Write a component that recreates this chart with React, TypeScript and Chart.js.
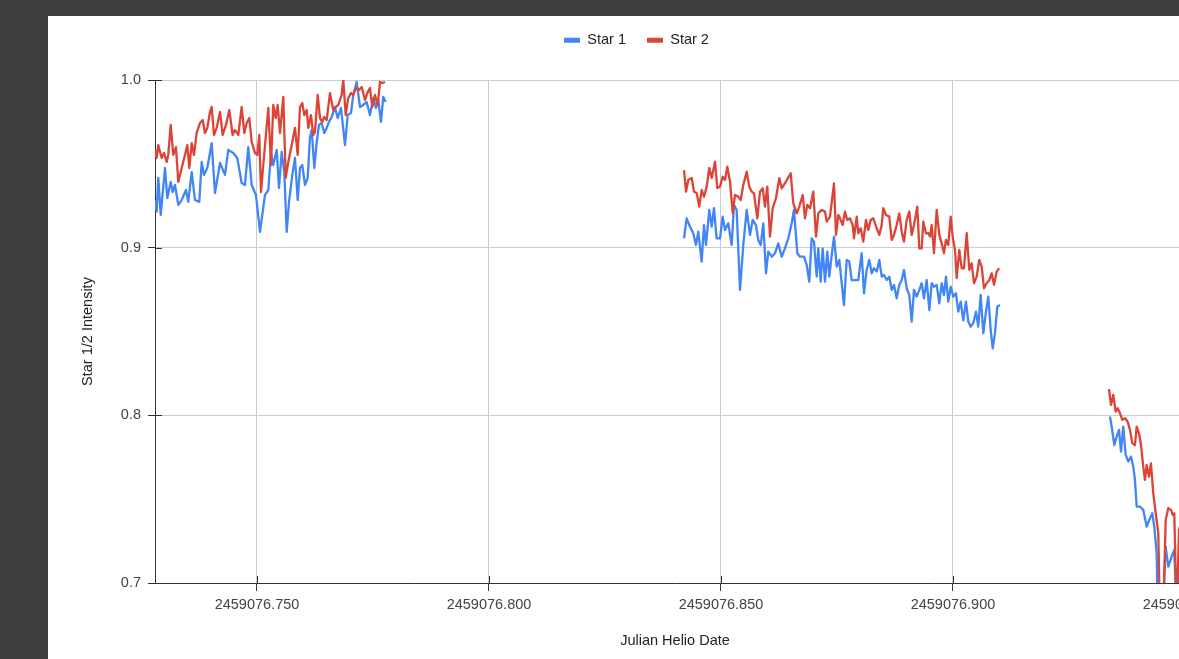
import React, { useEffect, useRef } from "react";
import { Chart, registerables } from "chart.js";

Chart.register(...registerables);

const BASE_JD = 2459076;
const X_MIN = 0.72802;
const X_MAX = 0.95216;
const X_TICKS = [0.75, 0.8, 0.85, 0.9, 0.95];
const Y_TICKS = [0.7, 0.8, 0.9, 1.0];
const SERIES_NAMES = ["Star 1", "Star 2"];

// Star 1 (fractional day after BASE_JD, null value = gap between observing runs)
const star1Times = [
  0.72802, 0.72838, 0.72873, 0.72925, 0.73017, 0.73067, 0.7314, 0.73183, 0.73233, 0.73304,
  0.73377, 0.7347, 0.73519, 0.73593, 0.73664, 0.73756, 0.73808, 0.73858, 0.73929, 0.74024,
  0.74095, 0.74203, 0.7431, 0.74381, 0.74489, 0.74575, 0.7467, 0.74741, 0.74812, 0.74886,
  0.74978, 0.75065, 0.75172, 0.75244, 0.75302, 0.75351, 0.75425, 0.75474, 0.75532, 0.75588,
  0.7564, 0.7569, 0.75761, 0.75819, 0.75877, 0.75927, 0.75976, 0.76034, 0.76093, 0.76142,
  0.76179, 0.76235, 0.76287, 0.76336, 0.76394, 0.7645, 0.76502, 0.76552, 0.7661, 0.76681,
  0.76739, 0.7681, 0.76897, 0.76955, 0.77026, 0.77075, 0.77149, 0.7722, 0.77291, 0.77364,
  0.77435, 0.77507, 0.77565, 0.77614, 0.77672, 0.77722, 0.77774,
  0.81,
  0.84203, 0.84261, 0.84332, 0.84403, 0.84461, 0.84511, 0.84584, 0.84634, 0.84677, 0.84748,
  0.848, 0.84849, 0.84907, 0.84979, 0.85037, 0.85086, 0.85157, 0.85231, 0.8528, 0.85338,
  0.8541, 0.85481, 0.85554, 0.85625, 0.85683, 0.85754, 0.85804, 0.85856, 0.85912, 0.8597,
  0.8602, 0.86093, 0.86164, 0.86235, 0.86308, 0.86379, 0.86451, 0.86524, 0.86573, 0.86645,
  0.86703, 0.86789, 0.86847, 0.86903, 0.86955, 0.87004, 0.87063, 0.87097, 0.87149, 0.87192,
  0.87242, 0.87291, 0.87334, 0.87386, 0.87436, 0.87494, 0.8755, 0.87651, 0.87709, 0.87765,
  0.87817, 0.87888, 0.87959, 0.88032, 0.88082, 0.8814, 0.88196, 0.88248, 0.88297, 0.88356,
  0.88412, 0.88464, 0.88513, 0.88571, 0.88627, 0.88679, 0.88729, 0.88787, 0.88843, 0.88895,
  0.88944, 0.89002, 0.89058, 0.8911, 0.8916, 0.89218, 0.89274, 0.89326, 0.89375, 0.89433,
  0.8949, 0.89541, 0.89591, 0.89649, 0.89705, 0.89757, 0.89806, 0.89849, 0.89899, 0.89951,
  0.90007, 0.90065, 0.90114, 0.90166, 0.90222, 0.9028, 0.9033, 0.90381, 0.90438, 0.90496,
  0.90545, 0.90597, 0.90653, 0.90711, 0.90761, 0.90813, 0.90856, 0.90905, 0.90955, 0.91013,
  0.923,
  0.93384, 0.9342, 0.93476, 0.93528, 0.93578, 0.93621, 0.9367, 0.93722, 0.93778, 0.93836,
  0.93886, 0.93922, 0.93959, 0.9403, 0.94101, 0.94175, 0.94246, 0.94295, 0.94338, 0.9439,
  0.94425, 0.94498, 0.94584, 0.9464, 0.94713, 0.94769, 0.94821, 0.94871, 0.94935,
];
const star1Values = [
  0.9284, 0.9215, 0.9416, 0.9195, 0.9475, 0.9296, 0.9392, 0.9332, 0.9374, 0.9255,
  0.9284, 0.9344, 0.9273, 0.9451, 0.9284, 0.9273, 0.9511, 0.9434, 0.9475, 0.9624,
  0.9326, 0.9505, 0.9434, 0.9583, 0.9565, 0.9535, 0.9386, 0.9374, 0.96, 0.9374,
  0.9314, 0.9094, 0.9314, 0.9344, 0.9565, 0.9493, 0.9583, 0.9356, 0.9571, 0.9451,
  0.9094, 0.9273, 0.9434, 0.9535, 0.9284, 0.9475, 0.9493, 0.9374, 0.9416, 0.966,
  0.9702, 0.9475, 0.963, 0.9732, 0.9744, 0.9684, 0.9714, 0.975, 0.9779, 0.9839,
  0.9773, 0.9833, 0.9612, 0.9791, 0.9803, 0.9911, 0.9988, 0.9839, 0.9851, 0.9869,
  0.9791, 0.9893, 0.9833, 0.9881, 0.975, 0.9899, 0.9869,
  null,
  0.9056, 0.9175, 0.9125, 0.9086, 0.9016, 0.9095, 0.8917, 0.9135, 0.9016, 0.9225,
  0.9125, 0.9235, 0.9056, 0.9056, 0.9185, 0.9106, 0.9145, 0.9016, 0.9255, 0.9225,
  0.8748, 0.9016, 0.9225, 0.9076, 0.9165, 0.9135, 0.9046, 0.9016, 0.9145, 0.8847,
  0.8976, 0.8946, 0.8967, 0.9026, 0.8946, 0.8996, 0.9056, 0.9145, 0.9225, 0.8967,
  0.8946, 0.8946, 0.8897, 0.8797, 0.9056, 0.9036, 0.8827, 0.8996, 0.8797, 0.8996,
  0.8797, 0.8976, 0.8827, 0.8956, 0.9066, 0.8887, 0.8927, 0.8658, 0.8927, 0.8917,
  0.8807, 0.8807, 0.8807, 0.8967, 0.8728, 0.8867, 0.8927, 0.8847, 0.8877, 0.8857,
  0.8927, 0.8827, 0.8837, 0.8807, 0.8827, 0.8748, 0.8778, 0.8698, 0.8778, 0.8807,
  0.8867, 0.8758, 0.8718, 0.8559, 0.8748, 0.8708, 0.8748, 0.8788, 0.8698, 0.8807,
  0.8628, 0.8788, 0.8767, 0.8778, 0.8668, 0.8788, 0.8718, 0.8827, 0.8678, 0.8767,
  0.8708, 0.8728, 0.8618, 0.8678, 0.8566, 0.8678, 0.8559, 0.8529, 0.8549, 0.8618,
  0.8529, 0.8718, 0.849, 0.8618, 0.8708, 0.8509, 0.84, 0.849, 0.8648, 0.8658,
  null,
  0.7992, 0.7933, 0.7823, 0.7873, 0.7913, 0.7784, 0.7933, 0.7764, 0.7724, 0.7754,
  0.7694, 0.7615, 0.7456, 0.7456, 0.7436, 0.7337, 0.7387, 0.7416, 0.7337, 0.7178,
  0.66, 0.67, 0.7217, 0.7098, 0.7157, 0.7197, 0.68, 0.7138, 0.7197,
];

// Star 2
const star2Times = [
  0.72802, 0.72838, 0.72873, 0.72946, 0.72996, 0.73054, 0.73088, 0.7314, 0.73196, 0.73254,
  0.73304, 0.73377, 0.73448, 0.73498, 0.73541, 0.73593, 0.73642, 0.737, 0.73772, 0.7383,
  0.73879, 0.73929, 0.73987, 0.74024, 0.74073, 0.74131, 0.74203, 0.74261, 0.74332, 0.74403,
  0.74476, 0.74526, 0.74597, 0.7467, 0.74726, 0.74778, 0.74834, 0.74886, 0.74957, 0.75006,
  0.7505, 0.75086, 0.75136, 0.75244, 0.75302, 0.75351, 0.75403, 0.75446, 0.75496, 0.75567,
  0.75619, 0.75675, 0.75748, 0.75819, 0.75877, 0.75927, 0.75976, 0.76019, 0.76071, 0.76106,
  0.76164, 0.76213, 0.7625, 0.76308, 0.76358, 0.76407, 0.7645, 0.76502, 0.76573, 0.76644,
  0.76696, 0.76752, 0.76825, 0.7686, 0.76912, 0.76968, 0.77026, 0.77075, 0.77127, 0.77198,
  0.77256, 0.77328, 0.77386, 0.77435, 0.77485, 0.77543, 0.77601, 0.77651, 0.777, 0.77759,
  0.81,
  0.84203, 0.84246, 0.84295, 0.84369, 0.84418, 0.84476, 0.84532, 0.84584, 0.84634, 0.84692,
  0.84748, 0.848, 0.84871, 0.8492, 0.84979, 0.85037, 0.85086, 0.85136, 0.85194, 0.85252,
  0.85302, 0.85373, 0.85425, 0.85481, 0.85554, 0.8561, 0.85662, 0.85711, 0.85783, 0.85841,
  0.85899, 0.85948, 0.85998, 0.86056, 0.86114, 0.86185, 0.86257, 0.86308, 0.86401, 0.86502,
  0.86558, 0.86632, 0.86688, 0.86761, 0.86811, 0.8686, 0.86918, 0.86989, 0.87048, 0.87097,
  0.87171, 0.87242, 0.87278, 0.87349, 0.87436, 0.87479, 0.87528, 0.87565, 0.87623, 0.87672,
  0.87722, 0.8778, 0.87838, 0.87866, 0.87925, 0.87959, 0.88011, 0.88067, 0.88125, 0.88175,
  0.88226, 0.88282, 0.88356, 0.88412, 0.88464, 0.88498, 0.88556, 0.88627, 0.88679, 0.88729,
  0.88787, 0.88843, 0.88895, 0.88944, 0.89002, 0.89058, 0.8911, 0.8916, 0.89231, 0.89274,
  0.89326, 0.8936, 0.89418, 0.89468, 0.89505, 0.89541, 0.89591, 0.89649, 0.89705, 0.89757,
  0.89806, 0.89849, 0.89899, 0.89951, 0.89994, 0.90043, 0.9008, 0.90136, 0.90188, 0.90237,
  0.90296, 0.90352, 0.90403, 0.90453, 0.90511, 0.90567, 0.90619, 0.90668, 0.90727, 0.90783,
  0.90834, 0.90884, 0.90942, 0.90998,
  0.923,
  0.93362, 0.93405, 0.93455, 0.93506, 0.9355, 0.93599, 0.93649, 0.93707, 0.93765, 0.93815,
  0.93864, 0.93922, 0.93959, 0.94009, 0.94052, 0.94101, 0.94138, 0.94175, 0.94224, 0.94267,
  0.94317, 0.94369, 0.94425, 0.94468, 0.94532, 0.94584, 0.9464, 0.94698, 0.94735, 0.94769,
  0.94821, 0.94871, 0.94935,
];
const star2Values = [
  0.9583, 0.9535, 0.9612, 0.9535, 0.9565, 0.9511, 0.9553, 0.9732, 0.9553, 0.96,
  0.9392, 0.9475, 0.9553, 0.9612, 0.9475, 0.9624, 0.9553, 0.9684, 0.9744, 0.9761,
  0.9684, 0.9714, 0.9809, 0.9839, 0.9672, 0.9714, 0.9809, 0.9672, 0.9732, 0.9821,
  0.9672, 0.9702, 0.9672, 0.9839, 0.9684, 0.9744, 0.9773, 0.963, 0.9565, 0.9553,
  0.9672, 0.9332, 0.9493, 0.9833, 0.9493, 0.9851, 0.9773, 0.9851, 0.9684, 0.9899,
  0.9416, 0.9511, 0.9612, 0.9714, 0.9553, 0.9839, 0.9863, 0.9791, 0.9821, 0.9714,
  0.9791, 0.9672, 0.969, 0.9911, 0.9773, 0.975, 0.9779, 0.9761, 0.9922, 0.9821,
  0.9839, 0.9851, 0.9911, 1.0, 0.9791, 0.9893, 0.9922, 0.9911, 0.9952, 0.994,
  0.9958, 0.9881, 0.9928, 0.9952, 0.9839, 0.9911, 0.9851, 0.9988, 0.9982, 0.9988,
  null,
  0.9463, 0.9334, 0.9404, 0.9416, 0.9334, 0.9326, 0.9245, 0.9344, 0.9304, 0.9364,
  0.9475, 0.9416, 0.9513, 0.9356, 0.9364, 0.9423, 0.9404, 0.9483, 0.9394, 0.9207,
  0.9314, 0.9304, 0.9284, 0.9374, 0.9453, 0.9364, 0.9334, 0.9324, 0.9175, 0.9334,
  0.9354, 0.9245, 0.9364, 0.9066, 0.9235, 0.9295, 0.9414, 0.9354, 0.9394, 0.9444,
  0.9265, 0.9205, 0.9245, 0.9314, 0.9175, 0.9255, 0.9235, 0.9334, 0.9066, 0.9205,
  0.9225, 0.9215, 0.9155, 0.9185, 0.9384, 0.9076, 0.9195, 0.9175, 0.9135, 0.9215,
  0.9165, 0.9175, 0.9135, 0.9056, 0.9185, 0.9086, 0.9116, 0.9036, 0.9165, 0.9106,
  0.9165, 0.9175, 0.9116, 0.9076, 0.9135, 0.9235, 0.9195, 0.9185, 0.9046, 0.9076,
  0.9135, 0.9205, 0.9095, 0.9036, 0.9165, 0.9215, 0.9076, 0.9135, 0.9245, 0.8996,
  0.8996, 0.9155, 0.9086, 0.9086, 0.9066, 0.9135, 0.8967, 0.9225, 0.9076, 0.9026,
  0.8967, 0.9046, 0.9016, 0.9185, 0.9066, 0.8986, 0.8818, 0.8986, 0.8877, 0.8877,
  0.9086, 0.8867, 0.8907, 0.8788, 0.8827, 0.8927, 0.8887, 0.8758, 0.8788, 0.8807,
  0.8847, 0.8778, 0.8857, 0.8877,
  null,
  0.8156, 0.8062, 0.8122, 0.8022, 0.8042, 0.8013, 0.7973, 0.7983, 0.7962, 0.7913,
  0.7834, 0.7823, 0.7933, 0.7893, 0.7823, 0.7694, 0.7615, 0.7704, 0.7634, 0.7714,
  0.7535, 0.7416, 0.7297, 0.67, 0.68, 0.7376, 0.7446, 0.7436, 0.7406, 0.7416,
  0.68, 0.7317, 0.7376,
];

const FONT = "'Liberation Sans', Arial, sans-serif";

const toPoints = (times: number[], values: (number | null)[]) =>
  times.map((t, i) => ({ x: BASE_JD + t, y: values[i] }));

const legendHeightPlugin = {
  id: "legendHeight",
  beforeLayout(chart: any) {
    const legend = chart.legend;
    if (legend && !legend._patchedFit) {
      const origFit = legend.fit;
      legend.fit = function () {
        origFit.call(this);
        this.height = 68;
      };
      legend._patchedFit = true;
    }
  },
};

const crossTicksPlugin = {
  id: "crossTicks",
  afterDraw(chart: any) {
    const { ctx, chartArea, scales } = chart;
    const x = scales.x;
    const y = scales.y;
    ctx.save();
    ctx.strokeStyle = "#333";
    ctx.lineWidth = 1;
    ctx.beginPath();
    x.ticks.forEach((t: any) => {
      const px = Math.round(x.getPixelForValue(t.value)) + 0.5;
      ctx.moveTo(px, chartArea.bottom);
      ctx.lineTo(px, chartArea.bottom - 7);
    });
    y.ticks.forEach((t: any) => {
      const py = Math.round(y.getPixelForValue(t.value)) + 0.5;
      ctx.moveTo(chartArea.left, py);
      ctx.lineTo(chartArea.left + 7, py);
    });
    ctx.stroke();
    ctx.restore();
  },
};

export default function App() {
  const canvasRef = useRef<HTMLCanvasElement | null>(null);

  useEffect(() => {
    if (!canvasRef.current) return;
    const chart = new Chart(canvasRef.current, {
      type: "line",
      data: {
        datasets: [
          {
            label: SERIES_NAMES[0],
            data: toPoints(star1Times, star1Values),
            borderColor: "#4285F4",
            backgroundColor: "#4285F4",
            borderWidth: 2.3,
            borderJoinStyle: "round",
            pointRadius: 0,
            pointHoverRadius: 0,
            tension: 0,
            spanGaps: false,
            order: 1,
          },
          {
            label: SERIES_NAMES[1],
            data: toPoints(star2Times, star2Values),
            borderColor: "#DB4437",
            backgroundColor: "#DB4437",
            borderWidth: 2.3,
            borderJoinStyle: "round",
            pointRadius: 0,
            pointHoverRadius: 0,
            tension: 0,
            spanGaps: false,
            order: 0,
          },
        ],
      },
      options: {
        animation: false,
        responsive: false,
        maintainAspectRatio: false,
        parsing: true,
        layout: { padding: { left: 30, right: 253, top: 0, bottom: 0 } },
        plugins: {
          tooltip: { enabled: false },
          legend: {
            display: true,
            position: "top",
            align: "center",
            labels: {
              boxWidth: 16,
              boxHeight: 5,
              padding: 21,
              color: "#222",
              font: { family: FONT, size: 14.5 },
              sort: (a: any, b: any) => a.datasetIndex - b.datasetIndex,
              generateLabels: (c: any) =>
                (Chart.defaults.plugins.legend.labels.generateLabels as any)(c).map((l: any) => ({
                  ...l,
                  lineWidth: 0,
                })),
            },
          },
        },
        scales: {
          x: {
            type: "linear",
            min: BASE_JD + X_MIN,
            max: BASE_JD + X_MAX,
            afterBuildTicks: (scale: any) => {
              scale.ticks = X_TICKS.map((v) => ({ value: BASE_JD + v }));
            },
            afterFit: (scale: any) => {
              scale.height = 76;
              scale.paddingLeft = 0;
              scale.paddingRight = 0;
            },
            ticks: {
              autoSkip: false,
              maxRotation: 0,
              minRotation: 0,
              padding: 5,
              color: "#444",
              font: { family: FONT, size: 14.5 },
              callback: (v: any) => Number(v).toFixed(3),
            },
            grid: {
              color: "#cccccc",
              lineWidth: 1,
              tickColor: "#333",
              tickLength: 8,
            },
            border: { display: true, color: "#333", width: 1 },
            title: {
              display: true,
              text: "Julian Helio Date",
              color: "#222",
              font: { family: FONT, size: 14.5 },
              padding: { top: 0, bottom: 9 },
            },
          },
          y: {
            type: "linear",
            min: 0.7,
            max: 1.0,
            afterBuildTicks: (scale: any) => {
              scale.ticks = Y_TICKS.map((v) => ({ value: v }));
            },
            afterFit: (scale: any) => {
              scale.width = 77;
              scale.paddingTop = 0;
              scale.paddingBottom = 0;
            },
            ticks: {
              padding: 7,
              color: "#444",
              font: { family: FONT, size: 14.5 },
              callback: (v: any) => Number(v).toFixed(1),
            },
            grid: {
              color: "#cccccc",
              lineWidth: 1,
              tickColor: "#333",
              tickLength: 7,
            },
            border: { display: true, color: "#333", width: 1 },
            title: {
              display: true,
              text: "Star 1/2 Intensity",
              color: "#222",
              font: { family: FONT, size: 14.5 },
              padding: { top: 1, bottom: 0 },
            },
          },
        },
      },
      plugins: [legendHeightPlugin, crossTicksPlugin],
    } as any);
    return () => chart.destroy();
  }, []);

  return (
    <div
      style={{
        position: "fixed",
        left: 0,
        top: 0,
        right: 0,
        bottom: 0,
        background: "#3d3e3b",
        overflow: "hidden",
      }}
    >
      <div
        style={{
          position: "absolute",
          left: 48,
          top: 16,
          width: 1400,
          height: 700,
          background: "#ffffff",
        }}
      >
        <canvas
          ref={canvasRef}
          width={1400}
          height={647}
          style={{ position: "absolute", left: 0, top: -4, display: "block" }}
        />
      </div>
    </div>
  );
}
